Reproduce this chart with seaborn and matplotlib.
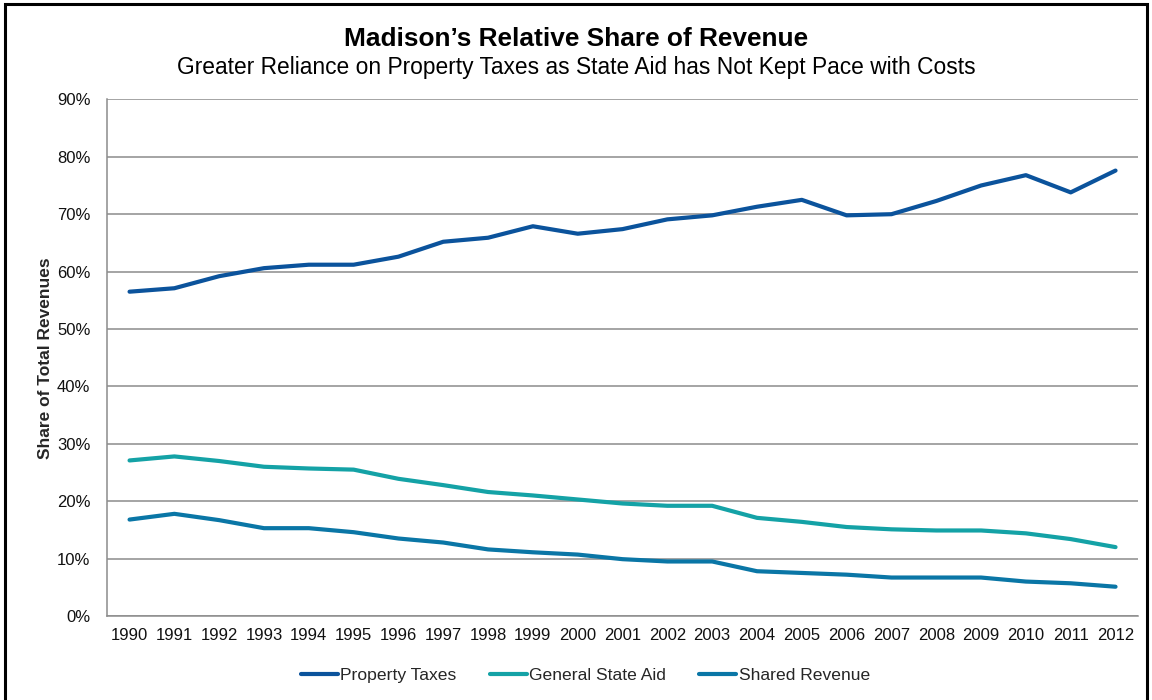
import matplotlib
matplotlib.use("Agg")
import matplotlib.pyplot as plt
from matplotlib.patches import Rectangle
from matplotlib.ticker import FixedLocator, FuncFormatter
import numpy as np
import pandas as pd
import seaborn as sns

years = list(range(1990, 2013))
property_taxes = [56.5, 57.1, 59.2, 60.6, 61.2, 61.2, 62.6, 65.2, 65.9, 67.9, 66.6, 67.4,
                  69.1, 69.8, 71.3, 72.5, 69.8, 70.0, 72.3, 75.0, 76.8, 73.8, 77.6]
general_state_aid = [27.1, 27.8, 27.0, 26.0, 25.7, 25.5, 23.9, 22.8, 21.6, 21.0, 20.3, 19.6,
                     19.2, 19.2, 17.1, 16.4, 15.5, 15.1, 14.9, 14.9, 14.4, 13.4, 12.0]
shared_revenue = [16.8, 17.8, 16.7, 15.3, 15.3, 14.6, 13.5, 12.8, 11.6, 11.1, 10.7, 9.9,
                  9.5, 9.5, 7.8, 7.5, 7.2, 6.7, 6.7, 6.7, 6.0, 5.7, 5.1]
series_names = ["Property Taxes", "General State Aid", "Shared Revenue"]
series_colors = ["#0B539C", "#14A2A6", "#0A76A6"]
y_ticks = [0, 10, 20, 30, 40, 50, 60, 70, 80, 90]

df = pd.DataFrame({
    "Year": years * 3,
    "Share": property_taxes + general_state_aid + shared_revenue,
    "Series": sum([[n] * len(years) for n in series_names], []),
})

sns.set_theme(style="white")
plt.rcParams["font.family"] = ["Liberation Sans", "DejaVu Sans"]

fig = plt.figure(figsize=(11.52, 7.0), dpi=100)
ax = fig.add_axes([0.093, 0.12, 0.8948, 0.738])

sns.lineplot(data=df, x="Year", y="Share", hue="Series", hue_order=series_names,
             palette=series_colors, linewidth=3.0, ax=ax, legend=True,
             solid_capstyle="round")

grid_c = "#8C8C8C"
ax.set_xlim(years[0] - 0.5, years[-1] + 0.5)
ax.set_ylim(0, 90)
ax.set_yticks(y_ticks)
ax.yaxis.set_major_formatter(FuncFormatter(lambda v, p: f"{v:.0f}%"))
ax.set_xticks(years)
ax.set_xticklabels([str(y) for y in years])
ax.xaxis.set_minor_locator(FixedLocator(np.arange(years[0] - 0.5, years[-1] + 1.0, 1.0)))
ax.tick_params(axis="x", which="major", length=0, pad=9, labelsize=12, labelcolor="#111111")
ax.tick_params(axis="x", which="minor", length=5, width=1, color=grid_c, direction="out")
ax.tick_params(axis="y", which="major", length=5, width=1, color=grid_c, direction="out",
               labelsize=12, labelcolor="#111111", pad=7)
ax.yaxis.grid(True, color=grid_c, linewidth=1.1)
ax.xaxis.grid(False)
ax.set_axisbelow(True)
for s in ["top", "right"]:
    ax.spines[s].set_visible(False)
for s in ["left", "bottom"]:
    ax.spines[s].set_color(grid_c)
    ax.spines[s].set_linewidth(1.1)

ax.set_xlabel("")
ax.set_ylabel("Share of Total Revenues", fontsize=12.5, fontweight="bold", labelpad=3)

handles, labels = ax.get_legend_handles_labels()
ax.legend(handles, labels, loc="center", bbox_to_anchor=(0.464, -0.115), ncol=3,
          frameon=False, fontsize=12.6, handlelength=2.1, handletextpad=0.15,
          columnspacing=1.9)

fig.text(0.5, 0.945, "Madison\u2019s Relative Share of Revenue", ha="center", va="center",
         fontsize=18.9, fontweight="bold", color="black")
fig.text(0.5, 0.904, "Greater Reliance on Property Taxes as State Aid has Not Kept Pace with Costs",
         ha="center", va="center", fontsize=16.4, color="black")

fig.patches.append(Rectangle((0.0045, -0.02), 0.9915, 1.014, transform=fig.transFigure,
                             fill=False, edgecolor="black", linewidth=2.2, zorder=10))

fig.savefig("out.png", dpi=100, facecolor="white")
